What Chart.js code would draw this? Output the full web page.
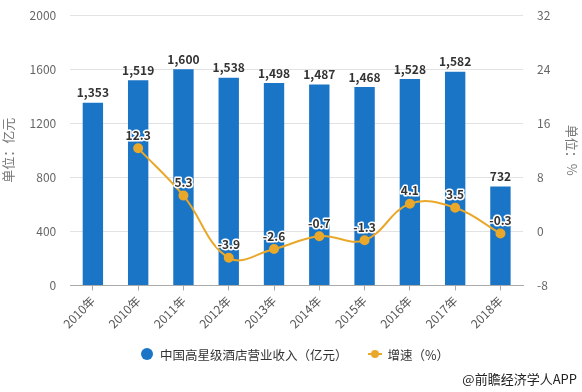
<!DOCTYPE html>
<html>
<head>
<meta charset="utf-8">
<script src="https://cdn.jsdelivr.net/npm/chart.js@4.4.0/dist/chart.umd.min.js"></script>
<style>
  html, body { margin: 0; padding: 0; background: #fff; overflow: hidden; }
  #wrap { position: relative; width: 582px; height: 392px; overflow: hidden; font-family: "Noto Sans CJK SC", sans-serif; }
  #chart { position: absolute; left: 0; top: -6px; }
  .legend { position: absolute; top: 345px; left: 141px; height: 18px; font-size: 12.5px; color: #333; display: flex; align-items: center; white-space: nowrap; }
  .dot { width: 12px; height: 12px; border-radius: 50%; background: #1a75c6; margin-right: 7px; }
  .lmark { position: relative; width: 14px; height: 2px; background: #eaa82a; margin: 0 6px 0 20px; }
  .lmark::after { content: ""; position: absolute; left: 3px; top: -3px; width: 8px; height: 8px; border-radius: 50%; background: #eaa82a; }
  .footer { position: absolute; right: 5px; top: 369px; font-size: 13px; color: #222; }
</style>
</head>
<body>
<div id="wrap">
  <canvas id="chart" width="582" height="398"></canvas>
  <div class="legend">
    <span class="dot"></span><span>中国高星级酒店营业收入（亿元）</span>
    <span class="lmark"></span><span>增速（%）</span>
  </div>
  <div class="footer">@前瞻经济学人APP</div>
</div>
<script>
// ============================
// Data
// ============================
const years = ['2010年', '2010年', '2011年', '2012年', '2013年', '2014年', '2015年', '2016年', '2017年', '2018年'];
const income = [1353, 1519, 1600, 1538, 1498, 1487, 1468, 1528, 1582, 732];
const growth = [null, 12.3, 5.3, -3.9, -2.6, -0.7, -1.3, 4.1, 3.5, -0.3];

const FONT = '"Noto Sans CJK SC", sans-serif';
const BLUE = '#1a75c6';
const ORANGE = '#eaa82a';

// value labels above bars and points
const valueLabels = {
    id: 'valueLabels',
    afterDatasetsDraw(chart) {
        const ctx = chart.ctx;
        ctx.save();
        ctx.textAlign = 'center';
        ctx.textBaseline = 'middle';
        ctx.font = 'bold 12px ' + FONT;

        chart.getDatasetMeta(1).data.forEach((bar, i) => {
            ctx.fillStyle = '#333';
            ctx.fillText(income[i].toLocaleString('en-US'), bar.x, bar.y - 10);
        });

        chart.getDatasetMeta(0).data.forEach((pt, i) => {
            if (growth[i] === null) return;
            ctx.lineWidth = 3;
            ctx.strokeStyle = '#fff';
            ctx.lineJoin = 'round';
            ctx.strokeText(growth[i].toFixed(1), pt.x, pt.y - 13);
            ctx.fillStyle = '#333';
            ctx.fillText(growth[i].toFixed(1), pt.x, pt.y - 13);
        });
        ctx.restore();
    }
};

new Chart(document.getElementById('chart'), {
    data: {
        labels: years,
        datasets: [{
            type: 'line',
            label: '增速（%）',
            data: growth,
            yAxisID: 'y1',
            order: 0,
            borderColor: ORANGE,
            backgroundColor: ORANGE,
            borderWidth: 2,
            pointRadius: 4,
            pointBackgroundColor: ORANGE,
            pointBorderColor: ORANGE,
            tension: 0.4
        }, {
            type: 'bar',
            label: '中国高星级酒店营业收入（亿元）',
            data: income,
            yAxisID: 'y',
            order: 1,
            backgroundColor: BLUE,
            categoryPercentage: 1,
            barPercentage: 0.45
        }]
    },
    options: {
        responsive: false,
        animation: false,
        layout: {
            padding: { left: 0, right: 0, top: 0, bottom: 58 }
        },
        scales: {
            x: {
                grid: {
                    offset: false,
                    drawOnChartArea: false,
                    tickLength: 5,
                    color: '#aaa'
                },
                border: { color: '#aaa' },
                ticks: {
                    color: '#555',
                    minRotation: 45,
                    maxRotation: 45,
                    font: { family: FONT, size: 12 }
                }
            },
            y: {
                position: 'left',
                min: 0,
                max: 2000,
                grid: { color: '#e2e2e2', drawTicks: false },
                border: { display: false },
                ticks: {
                    stepSize: 400,
                    padding: 14,
                    color: '#666',
                    font: { family: FONT, size: 12 },
                    callback: v => String(v)
                },
                title: {
                    display: true,
                    text: '单位：亿元',
                    color: '#777',
                    padding: 0,
                    font: { family: FONT, size: 13 }
                }
            },
            y1: {
                position: 'right',
                min: -8,
                max: 32,
                grid: { drawOnChartArea: false, drawTicks: false },
                border: { display: false },
                ticks: {
                    stepSize: 8,
                    padding: 14,
                    color: '#666',
                    font: { family: FONT, size: 12 }
                },
                title: {
                    display: true,
                    text: '单位：%',
                    color: '#777',
                    padding: { top: 2, bottom: 0 },
                    font: { family: FONT, size: 13 }
                }
            }
        },
        plugins: {
            legend: { display: false },
            tooltip: { enabled: false }
        }
    },
    plugins: [valueLabels]
});
</script>
</body>
</html>
